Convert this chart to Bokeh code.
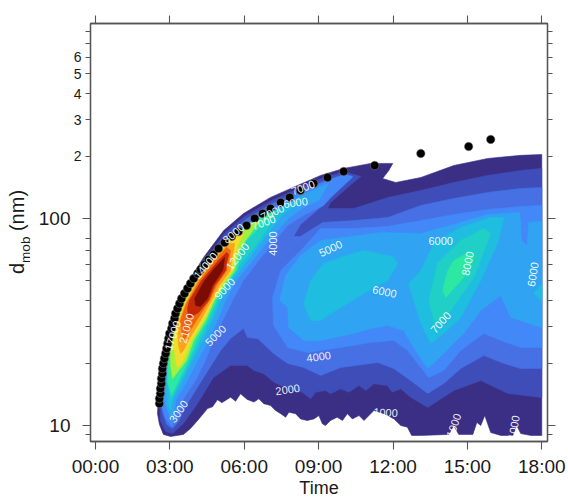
from bokeh.plotting import figure
from bokeh.layouts import row
from bokeh.models import Range1d, FixedTicker, LinearAxis, LogAxis, Div
from bokeh.core.properties import value
from bokeh.embed import file_html
from bokeh.resources import INLINE
import numpy as np

# axis ticks / labels
x_ticks = [0, 3, 6, 9, 12, 15, 18]
x_tick_labels = ["00:00", "03:00", "06:00", "09:00", "12:00", "15:00", "18:00"]
y_major = [10, 100]
y_minor = [9, 20, 30, 40, 50, 60, 70, 80, 200, 300, 400, 500, 600, 700, 800]
y_small_labels = {200: "2", 300: "3", 400: "4", 500: "5", 600: "6"}

# filled contour outlines: time (hours), log10(d_mob / nm)
dark_t = [2.50,2.54,2.74,3.15,3.71,4.36,5.17,5.97,7.06,8.15,9.08,10.01,11.10,11.99,11.83,11.58,12.11,13.12,14.45,15.82,17.15,18.0,18.0,17.56,17.15,16.99,16.83,16.35,15.94,15.70,15.54,15.38,15.22,14.65,14.45,14.25,13.12,12.75,12.58,12.31,12.04,11.64,11.23,11.03,10.83,10.63,10.36,10.16,9.96,9.75,9.48,9.28,9.15,9.01,8.81,8.54,8.27,8.07,7.80,7.67,7.47,7.26,7.06,6.79,6.59,6.39,6.12,5.85,5.65,5.45,5.10,4.92,4.72,4.52,4.12,3.83,3.55,3.03,2.74,2.58]
dark_l = [1.058,1.135,1.329,1.522,1.686,1.812,1.942,2.024,2.102,2.160,2.208,2.242,2.266,2.266,2.232,2.193,2.174,2.198,2.256,2.290,2.305,2.309,.952,.952,.961,1.000,.952,.952,.966,1.048,1.000,1.015,.957,.957,1.000,.957,.952,.952,.992,1.000,1.032,1.057,1.073,1.048,1.024,1.048,1.032,1.057,1.024,1.040,1.024,1.000,1.008,1.048,1.032,1.024,1.032,1.057,1.064,1.040,1.057,1.073,1.097,1.105,1.129,1.113,1.126,1.153,1.117,1.137,1.110,1.125,1.090,1.082,1.024,.985,.957,.947,.957,1.005]

indigo_t = [2.58,2.78,3.19,3.75,4.40,5.21,6.01,7.10,8.19,9.12,10.01,10.70,10.17,9.48,9.36,10.41,11.79,13.12,14.45,15.82,17.15,18,18,16.63,15.54,14.45,13.40,12.71,12.31,11.97,11.77,11.23,10.90,10.63,10.22,9.89,9.48,9.28,8.88,8.68,8.34,7.94,7.47,7.20,6.79,6.39,6.12,5.45,4.76,4.12,3.55,3.11,2.83,2.62]
indigo_l = [1.145,1.314,1.507,1.672,1.797,1.928,2.010,2.087,2.145,2.193,2.227,2.203,2.150,2.077,2.048,2.048,2.102,2.135,2.174,2.208,2.232,2.242,1.135,1.155,1.217,1.169,1.087,1.137,1.177,1.161,1.193,1.202,1.169,1.193,1.161,1.177,1.153,1.169,1.161,1.129,1.161,1.169,1.193,1.209,1.250,1.266,1.290,1.290,1.232,1.106,1.010,.961,.971,1.024]

royal_t = [2.62,2.83,3.23,3.79,4.44,5.25,6.05,7.14,8.23,9.16,10.01,10.37,9.89,9.16,8.27,7.99,8.27,9.16,10.41,11.79,13.12,14.45,15.82,17.15,18,18,17.15,16.47,15.66,14.73,14.05,13.40,12.71,12.03,11.38,9.89,9.08,8.40,7.75,7.18,6.54,6.13,5.97,5.45,5.05,4.36,3.71,3.35,3.11,2.87,2.70]
royal_l = [1.145,1.314,1.498,1.662,1.788,1.913,1.995,2.073,2.131,2.179,2.213,2.198,2.145,2.063,1.971,1.913,1.913,1.981,1.990,2.005,2.063,2.097,2.126,2.145,2.150,1.275,1.275,1.300,1.338,1.275,1.203,1.155,1.217,1.275,1.304,1.280,1.242,1.280,1.300,1.348,1.420,1.425,1.469,1.420,1.362,1.232,1.106,1.019,.985,1.005,1.063]

blue_t = [7.14,7.47,8.39,9.08,10.41,11.79,13.12,14.45,15.82,17.15,18,18,17.15,16.35,15.66,14.73,14.05,13.44,12.99,12.59,12.03,11.10,9.89,8.56,7.75,7.18]
blue_l = [1.618,1.749,1.860,1.952,1.952,1.962,1.990,2.019,2.044,2.058,2.063,1.377,1.377,1.411,1.445,1.362,1.266,1.232,1.300,1.362,1.411,1.401,1.377,1.353,1.377,1.483]

sky_t = [7.43,7.67,8.27,9.08,10.29,11.50,13.12,14.45,15.82,17.11,17.19,17.40,17.48,18,18,16.75,16.35,15.54,14.85,14.05,13.40,12.83,12.43,11.79,11.10,10.41,9.08,8.40,7.79,7.75]
sky_l = [1.604,1.725,1.821,1.894,1.913,1.932,1.928,1.971,2.019,2.029,1.894,1.870,1.981,1.986,1.474,1.522,1.628,1.556,1.445,1.348,1.275,1.377,1.459,1.483,1.469,1.445,1.411,1.411,1.474,1.570]

cyan_mid_t = [8.40,8.68,9.20,10.01,10.82,11.99,12.19,11.79,10.82,9.89,9.08,8.68]
cyan_mid_l = [1.589,1.700,1.783,1.816,1.845,1.816,1.783,1.700,1.638,1.570,1.507,1.507]
cyan_right_t = [12.63,13.12,13.52,14.05,14.73,15.54,16.22,16.47,15.94,14.73,13.64,13.12]
cyan_right_l = [1.686,1.493,1.396,1.445,1.522,1.700,1.879,2.005,2.005,1.957,1.879,1.749]
cyan_edge_t = [17.68,18,18]
cyan_edge_l = [1.638,1.686,1.604]
turq_right_t = [13.44,13.72,14.33,15.26,15.94,15.66,14.73,13.80]
turq_right_l = [1.604,1.473,1.556,1.715,1.928,1.952,1.894,1.783]
green_right_t = [14.0,14.13,14.85,15.26,15.06,14.45,14.21]
green_right_l = [1.652,1.618,1.715,1.812,1.836,1.797,1.749]

# the bright ridge, from the outermost band to the core
r_blue_t = [3.07,2.83,2.66,2.62,2.74,2.99,3.35,3.91,4.64,5.53,6.46,7.47,8.48,9.48,10.09,10.37,9.48,9.20,8.39,7.75,7.26,6.58,5.97,5.53,5.13,4.76,4.44,4.04,3.51,3.27]
r_blue_l = [.995,1.034,1.097,1.193,1.314,1.435,1.556,1.676,1.807,1.913,2.000,2.077,2.135,2.188,2.213,2.203,2.102,2.063,2.015,1.966,1.894,1.797,1.700,1.604,1.507,1.411,1.314,1.217,1.121,1.034]
r_sky_t = [3.11,2.91,2.78,2.74,2.83,3.03,3.43,3.96,4.72,5.61,6.54,7.55,8.48,9.40,9.00,8.39,7.79,6.98,6.34,5.69,5.25,4.92,4.56,4.12,3.71,3.23,3.19]
r_sky_l = [1.029,1.068,1.121,1.193,1.314,1.420,1.546,1.667,1.797,1.903,1.990,2.068,2.121,2.169,2.087,2.053,2.000,1.894,1.797,1.700,1.604,1.507,1.411,1.314,1.217,1.121,1.063]
r_cyan_t = [3.03,2.91,2.87,2.91,3.11,3.51,4.04,4.80,5.69,6.58,7.59,8.39,8.19,7.55,6.74,6.13,5.53,5.05,4.72,4.32,3.91,3.51,3.11]
r_cyan_l = [1.063,1.111,1.193,1.304,1.411,1.546,1.662,1.788,1.894,1.981,2.058,2.106,2.073,2.019,1.894,1.797,1.700,1.604,1.507,1.411,1.314,1.217,1.121]
r_turq_t = [3.03,2.95,2.99,3.15,3.55,4.08,4.84,5.77,6.66,7.59,7.31,6.58,5.97,5.37,4.96,4.60,4.20,3.83,3.43]
r_turq_l = [1.121,1.193,1.290,1.401,1.536,1.652,1.778,1.884,1.971,2.048,2.019,1.889,1.797,1.700,1.604,1.507,1.411,1.314,1.217]
r_green_t = [3.07,2.91,2.91,2.95,3.11,3.43,3.91,4.56,5.37,6.26,7.06,7.31,6.82,6.09,5.85,5.81,5.69,5.25,4.88,4.52,4.08,3.75,3.35]
r_green_l = [1.145,1.208,1.290,1.387,1.483,1.589,1.700,1.807,1.903,1.981,2.048,2.034,1.981,1.894,1.845,1.797,1.749,1.676,1.604,1.507,1.411,1.314,1.217]
r_lime_t = [3.11,3.03,3.03,3.19,3.51,4.00,4.64,5.45,6.26,6.58,6.05,5.81,5.69,5.61,5.17,4.80,4.44,3.96,3.67]
r_lime_l = [1.227,1.290,1.387,1.483,1.589,1.700,1.807,1.903,1.976,1.981,1.894,1.845,1.797,1.749,1.676,1.604,1.507,1.411,1.314]
r_yellow_t = [3.31,3.23,3.15,3.27,3.59,4.08,4.72,5.53,5.97,5.77,5.69,5.57,5.53,5.09,4.76,4.36,3.87,3.55]
r_yellow_l = [1.275,1.324,1.387,1.483,1.589,1.700,1.807,1.903,1.928,1.879,1.845,1.797,1.749,1.676,1.604,1.507,1.411,1.314]
r_orange_t = [3.43,3.35,3.31,3.63,4.12,4.80,5.37,5.61,5.57,5.49,5.45,5.00,4.68,4.24,3.75,3.55]
r_orange_l = [1.348,1.387,1.483,1.589,1.700,1.807,1.879,1.879,1.845,1.797,1.749,1.676,1.604,1.507,1.411,1.362]
r_dkorange_t = [3.55,3.47,3.43,3.67,4.20,4.88,5.29,5.45,5.37,5.29,4.88,4.60,4.12,3.75]
r_dkorange_l = [1.411,1.459,1.507,1.589,1.700,1.807,1.860,1.845,1.797,1.749,1.676,1.604,1.517,1.445]
r_red_t = [3.75,3.71,3.79,4.28,4.96,5.29,5.37,5.29,5.25,4.80,4.56,4.16]
r_red_l = [1.517,1.565,1.604,1.700,1.797,1.836,1.826,1.788,1.749,1.676,1.604,1.546]
r_core_t = [4.04,4.00,4.40,4.80,5.21,5.17,5.13,4.72,4.52,4.24]
r_core_l = [1.580,1.614,1.700,1.759,1.812,1.773,1.749,1.676,1.614,1.575]

band_colors = {
    "dark": "#3b2f85", "indigo": "#3f4db8", "royal": "#4670e4", "blue": "#4288f8",
    "sky": "#30a4f2", "cyan": "#1fbde0", "turq": "#20d0c6", "green": "#2ce8a2",
    "lime": "#a6f03a", "yellow": "#f2dc2e", "orange": "#fca31f", "dkorange": "#ee6710",
    "red": "#c42a06", "core": "#7a0c03",
}

# measured points
dot_t = [2.58,2.58,2.62,2.62,2.66,2.66,2.70,2.70,2.74,2.78,2.83,2.87,2.91,2.95,2.99,3.07,3.11,3.19,3.23,3.31,3.39,3.47,3.59,3.71,3.83,3.96,4.12,4.24,4.40,4.56,4.76,4.96,5.21,5.49,5.77,6.09,6.42,6.74,7.06,7.47,7.83,8.27,8.80,9.36,10.01,11.26,13.12,15.05,15.94]
dot_l = [1.106,1.130,1.155,1.179,1.203,1.227,1.251,1.275,1.300,1.324,1.348,1.372,1.396,1.420,1.445,1.469,1.493,1.517,1.541,1.565,1.589,1.613,1.638,1.662,1.686,1.710,1.734,1.754,1.778,1.802,1.826,1.855,1.884,1.913,1.937,1.966,2.000,2.024,2.048,2.077,2.102,2.135,2.169,2.198,2.227,2.256,2.314,2.348,2.382]

# contour labels
lab_text = ["3000","5000","21000","9000","12000","4000","7000","7000","6000","7000","8000","14000","17000","5000","6000","4000","2000","1000","6000","8000","7000","6000","1000","1000"]
lab_t = [3.35,4.84,3.67,5.21,5.73,7.14,6.78,7.14,8.07,8.37,5.57,4.44,3.11,9.48,11.66,9.00,7.75,11.70,13.92,15.01,13.92,17.64,14.45,16.87]
lab_l = [1.068,1.435,1.469,1.662,1.817,1.879,1.981,2.029,2.077,2.149,1.928,1.773,1.435,1.855,1.647,1.333,1.174,1.063,1.889,1.783,1.498,1.730,1.000,.990]
lab_a = [55,45,75,47,52,90,20,25,8,20,40,50,72,25,-12,8,8,-3,0,78,48,80,70,80]

AX = "#555555"
TXT = "#1a1a1a"
p = figure(width=538, height=498, frame_width=457, frame_height=418,
           output_backend="svg", toolbar_location=None, y_axis_type="log",
           x_range=Range1d(-0.2, 18.23), y_range=Range1d(8.37, 875),
           min_border_left=60, min_border_top=23, min_border_right=21, min_border_bottom=57)
p.grid.visible = False
p.outline_line_color = AX
p.outline_line_width = 1.3
p.background_fill_color = "white"
p.border_fill_color = "white"

def band(t, l, key):
    c = band_colors[key]
    p.patch(t, list(10 ** np.array(l)), fill_color=c, line_color=c, line_width=0.6)

band(dark_t, dark_l, "dark")
band(indigo_t, indigo_l, "indigo")
band(royal_t, royal_l, "royal")
band(blue_t, blue_l, "blue")
band(sky_t, sky_l, "sky")
band(cyan_mid_t, cyan_mid_l, "cyan")
band(cyan_right_t, cyan_right_l, "cyan")
band(cyan_edge_t, cyan_edge_l, "cyan")
band(turq_right_t, turq_right_l, "turq")
band(green_right_t, green_right_l, "green")
band(r_blue_t, r_blue_l, "blue")
band(r_sky_t, r_sky_l, "sky")
band(r_cyan_t, r_cyan_l, "cyan")
band(r_turq_t, r_turq_l, "turq")
band(r_green_t, r_green_l, "green")
band(r_lime_t, r_lime_l, "lime")
band(r_yellow_t, r_yellow_l, "yellow")
band(r_orange_t, r_orange_l, "orange")
band(r_dkorange_t, r_dkorange_l, "dkorange")
band(r_red_t, r_red_l, "red")
band(r_core_t, r_core_l, "core")

p.scatter(dot_t, list(10 ** np.array(dot_l)), size=8.5, fill_color="black", line_color="#888888", line_width=0.5)

p.text(lab_t, list(10 ** np.array(lab_l)), text=lab_text, angle=lab_a, angle_units="deg",
       text_color="white", text_alpha=0.92, text_font=value("Liberation Sans"), text_font_size="11px",
       text_align="center", text_baseline="middle")

# axes
def style(ax):
    ax.axis_line_color = AX
    ax.axis_line_width = 1.3
    ax.major_tick_line_color = AX
    ax.minor_tick_line_color = AX
    ax.major_tick_line_width = 1.1
    ax.minor_tick_line_width = 1.1
    ax.major_tick_in = 0
    ax.major_tick_out = 8
    ax.minor_tick_in = 0
    ax.minor_tick_out = 5
    ax.major_label_text_font = "Liberation Sans"
    ax.major_label_text_font_size = "19px"
    ax.major_label_text_color = TXT
    ax.major_label_standoff = 6

def blank(ax):
    ax.major_label_text_font_size = "1px"
    ax.major_label_standoff = 0

xb = p.xaxis[0]
xb.ticker = FixedTicker(ticks=x_ticks)
xb.major_label_overrides = dict(zip(x_ticks, x_tick_labels))
style(xb)
xb.axis_label = "Time"
xb.axis_label_text_font = "Liberation Sans"
xb.axis_label_text_font_style = "normal"
xb.axis_label_text_font_size = "18px"
xb.axis_label_text_color = TXT
xb.axis_label_standoff = -2

# inner left axis: every short tick plus the small 2..6 labels, long ticks at 10 and 100
yl = p.yaxis[0]
yl.ticker = FixedTicker(ticks=y_minor, minor_ticks=y_major)
yl.major_label_overrides = {v: y_small_labels.get(v, " ") for v in y_minor}
style(yl)
yl.major_tick_out = 5
yl.minor_tick_out = 8
yl.major_label_text_font_size = "14px"
yl.major_label_standoff = 1

# outer left axis: the 10 and 100 labels only
yo = LogAxis(ticker=FixedTicker(ticks=y_major))
style(yo)
yo.major_tick_out = 0
yo.axis_line_color = None
yo.major_tick_line_color = None
yo.major_label_standoff = 0
yo.major_label_overrides = {10: "10", 100: "100"}
p.add_layout(yo, "left")

xt = LinearAxis(ticker=FixedTicker(ticks=x_ticks))
style(xt)
blank(xt)
xt.major_label_overrides = {t: " " for t in x_ticks}
p.add_layout(xt, "above")
yr = LogAxis(ticker=FixedTicker(ticks=y_major, minor_ticks=y_minor))
style(yr)
blank(yr)
yr.major_label_overrides = {10: " ", 100: " "}
p.add_layout(yr, "right")

# y title with a real subscript, in a narrow column to the left of the plot
y_title = Div(width=30, height=498, margin=(0, 0, 0, 0), text=(
    '<div style="position:absolute;left:6px;top:274px;transform-origin:0 0;transform:rotate(-90deg);'
    'white-space:nowrap;font:20px \'Liberation Sans\';line-height:23px;color:#1a1a1a">'
    'd<span style="font-size:13.5px;position:relative;top:6px">mob</span> (nm)</div>'))

open("out.html", "w").write(file_html(row(y_title, p, spacing=0), INLINE))
